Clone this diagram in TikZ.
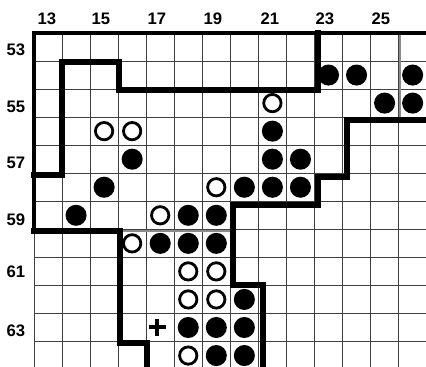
\documentclass[tikz,border=0pt]{standalone}
\usepackage{fontspec}
\setmainfont{Liberation Sans}
\begin{document}
\begin{tikzpicture}[x=0.75pt,y=-0.75pt,
  gridline/.style={draw=black!75,line width=0.6pt},
  heavy/.style={draw=black,line width=4.3pt,line join=miter,line cap=rect},
  border/.style={draw=black,line width=3.3pt,line join=miter,line cap=rect},
  greyline/.style={draw=black!45,line width=2.2pt},
  blk/.style={circle,fill=black,inner sep=0pt,minimum size=15.8pt},
  wht/.style={circle,draw=black,fill=white,line width=2.1pt,inner sep=0pt,minimum size=13pt},
  lbl/.style={font=\fontsize{12.5}{14}\selectfont\bfseries,inner sep=0pt}]
\useasboundingbox (0,0) rectangle (426,367);
\begin{scope}
\clip (0,0) rectangle (426,367);
% grid
\foreach \i in {1,...,13}
  \draw[gridline] ({34+28.05*\i},33) -- ({34+28.05*\i},367);
\draw[gridline] (34,231) -- (34,367);
\foreach \j in {1,...,11}
  \draw[gridline] (34,{33+28.05*\j}) -- (426,{33+28.05*\j});
% grey marks
\draw[greyline] (400,33) -- (400,118);
\draw[greyline] (120,231) -- (231,231);
% thick outlines
\draw[border] (428,33) -- (34,33) -- (34,231);
\draw[heavy] (34,231) -- (120,231) -- (120,343) -- (147,343) -- (147,369);
\draw[heavy] (318,33) -- (318,90) -- (119,90) -- (119,62) -- (62,62) -- (62,175) -- (34,175);
\draw[heavy] (428,120) -- (347,120) -- (347,177) -- (318,177) -- (318,205) -- (233,205) -- (233,285) -- (263,285) -- (263,369);
\end{scope}
% labels
\foreach \c/\x in {13/47,15/101,17/157,19/213,21/270,23/325,25/381}
  \node[lbl] (top\c) at (\x,19) {\c};
\foreach \r/\y in {53/50,55/107,57/163,59/220,61/272,63/331}
  \node[lbl] (left\r) at (16,\y) {\r};
% black stones
\foreach \c/\r in {23/54,24/54,26/54,25/55,26/55,21/56,16/57,21/57,22/57,
  15/58,20/58,21/58,22/58,14/59,18/59,19/59,17/60,18/60,19/60,20/62,
  18/63,19/63,20/63,19/64,20/64}
  \node[blk] (b\c-\r) at ({34+28.05*(\c-13)+14},{33+28.05*(\r-53)+14}) {};
% white stones
\foreach \c/\r in {21/55,15/56,16/56,19/58,17/59,16/60,18/61,19/61,18/62,19/62,18/64}
  \node[wht] (w\c-\r) at ({34+28.05*(\c-13)+14},{33+28.05*(\r-53)+14}) {};
% plus mark
\coordinate (plus) at ({34+28.05*4+11},{33+28.05*10+14});
\draw[line width=3pt] ([xshift=-6.5pt]plus) -- ([xshift=6.5pt]plus);
\draw[line width=3pt] ([yshift=-6.5pt]plus) -- ([yshift=6.5pt]plus);
\end{tikzpicture}
\end{document}
